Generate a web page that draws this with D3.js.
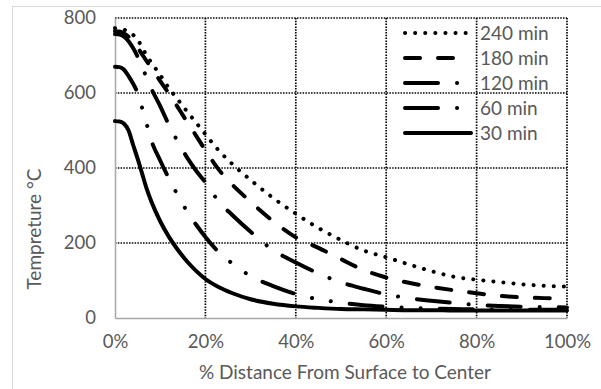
<!DOCTYPE html>
<html>
<head>
<meta charset="utf-8">
<script src="https://cdn.jsdelivr.net/npm/d3@7/dist/d3.min.js"></script>
<style>
  html, body { margin: 0; padding: 0; background: #fff; }
  svg { display: block; }
  text { font-family: Lato, "Open Sans", sans-serif; fill: #595959; }
</style>
</head>
<body>
<svg id="chart" width="601" height="389"></svg>
<script>
// Distance from the surface (% of the way to the centre)
const distance = [0, 1, 2, 3, 4, 5, 6, 7, 8, 10, 12, 14, 16, 18, 20, 23, 26, 30, 35, 40, 45, 50, 55, 60, 65, 70, 75, 80, 85, 90, 95, 100];

// Temperature (°C) profiles after each exposure time
const temp30  = [525, 524, 518, 500, 462, 425, 385, 345, 312, 258, 215, 180, 150, 125, 104, 82, 66, 50, 38, 31, 27, 24, 23, 22, 21, 21, 20, 20, 20, 20, 20, 20];
const temp60  = [670, 669, 662, 645, 625, 600, 560, 518, 475, 420, 370, 325, 283, 248, 216, 175, 145, 112, 85, 64, 50, 41, 34, 30, 27, 25, 24, 23, 23, 22, 22, 22];
const temp120 = [757, 756, 750, 738, 720, 697, 668, 642, 613, 565, 513, 468, 427, 392, 362, 310, 274, 230, 181, 148, 119, 95, 78, 63, 53, 46, 40, 35, 32, 30, 29, 28];
const temp180 = [765, 764, 759, 750, 737, 721, 703, 685, 667, 632, 597, 560, 522, 485, 447, 395, 355, 310, 258, 215, 187, 157, 128, 108, 94, 83, 74, 66, 59, 55, 53, 52];
const temp240 = [773, 772, 769, 763, 755, 742, 722, 700, 682, 648, 612, 581, 550, 520, 490, 446, 410, 368, 320, 278, 240, 208, 180, 162, 143, 125, 110, 102, 96, 90, 86, 84];

const seriesNames = ["240 min", "180 min", "120 min", "60 min", "30 min"];
const seriesValues = [temp240, temp180, temp120, temp60, temp30];

const xTicks = [0, 20, 40, 60, 80, 100];
const yTicks = [0, 200, 400, 600, 800];

// Line patterns: round dot, dash, long dash–dot, long dash–dot–dot, solid
const dashes = ["0.1 10", "15 18", "33 19 0.1 19", "33 19 0.1 19 0.1 19", null];

const svg = d3.select("#chart");

// chart frame
svg.append("rect")
  .attr("x", 12.5).attr("y", 6.5)
  .attr("width", 620).attr("height", 420)
  .attr("fill", "none").attr("stroke", "#d9d9d9").attr("stroke-width", 1);

const plot = { left: 115, top: 18, right: 567, bottom: 318 };

const x = d3.scaleLinear().domain([0, 100]).range([plot.left, plot.right]);
const y = d3.scaleLinear().domain([0, 800]).range([plot.bottom, plot.top]);

// dotted gridlines
const grid = svg.append("g")
  .attr("stroke", "#000").attr("stroke-width", 1.7).attr("stroke-dasharray", "1.5 1.3");
grid.selectAll("line.h").data(yTicks.filter(d => d > 0)).join("line")
  .attr("x1", plot.left).attr("x2", plot.right)
  .attr("y1", d => y(d)).attr("y2", d => y(d));
grid.selectAll("line.v").data(xTicks.filter(d => d > 0)).join("line")
  .attr("y1", plot.top).attr("y2", plot.bottom)
  .attr("x1", d => x(d)).attr("x2", d => x(d));

// axes
const yAxis = svg.append("g")
  .attr("transform", `translate(${plot.left},0)`)
  .call(d3.axisLeft(y).tickValues(yTicks).tickSize(0).tickPadding(19));
const xAxis = svg.append("g")
  .attr("transform", `translate(0,${plot.bottom})`)
  .call(d3.axisBottom(x).tickValues(xTicks).tickSize(0).tickPadding(17).tickFormat(d => d + "%"));
[yAxis, xAxis].forEach(g => {
  g.select(".domain").attr("stroke", "#a6a6a6").attr("stroke-width", 1.5);
  g.selectAll("text").style("font-size", "18.5px").attr("fill", "#595959")
    .style("font-family", "Lato, 'Open Sans', sans-serif");
});

// curves
const line = d3.line()
  .x((d, i) => x(distance[i]))
  .y(d => y(d))
  .curve(d3.curveMonotoneX);

const curves = svg.append("g").attr("fill", "none").attr("stroke", "#000")
  .attr("stroke-width", 4).attr("stroke-linecap", "round").attr("stroke-linejoin", "round");

// draw the 30 min curve first so the dashed ones sit over it
seriesValues.slice().reverse().forEach((vals, k) => {
  const idx = seriesValues.length - 1 - k;
  const p = curves.append("path").attr("d", line(vals));
  if (dashes[idx]) p.attr("stroke-dasharray", dashes[idx]);
});

// legend
const legend = svg.append("g");
seriesNames.forEach((name, i) => {
  const cy = 33 + i * 25;
  const l = legend.append("line")
    .attr("x1", 405).attr("x2", 471).attr("y1", cy).attr("y2", cy)
    .attr("stroke", "#000").attr("stroke-width", 4).attr("stroke-linecap", "round");
  if (dashes[i]) l.attr("stroke-dasharray", dashes[i]);
  legend.append("text")
    .attr("x", 480).attr("y", cy).attr("dy", "0.35em")
    .style("font-size", "19px").text(name);
});

// axis titles
svg.append("text")
  .attr("x", (plot.left + plot.right) / 2 + 4).attr("y", 379)
  .attr("text-anchor", "middle").style("font-size", "19px")
  .text("% Distance From Surface to Center");
svg.append("text")
  .attr("transform", "translate(41,229) rotate(-90)")
  .attr("text-anchor", "middle").style("font-size", "19px")
  .text("Tempreture °C");
</script>
</body>
</html>
